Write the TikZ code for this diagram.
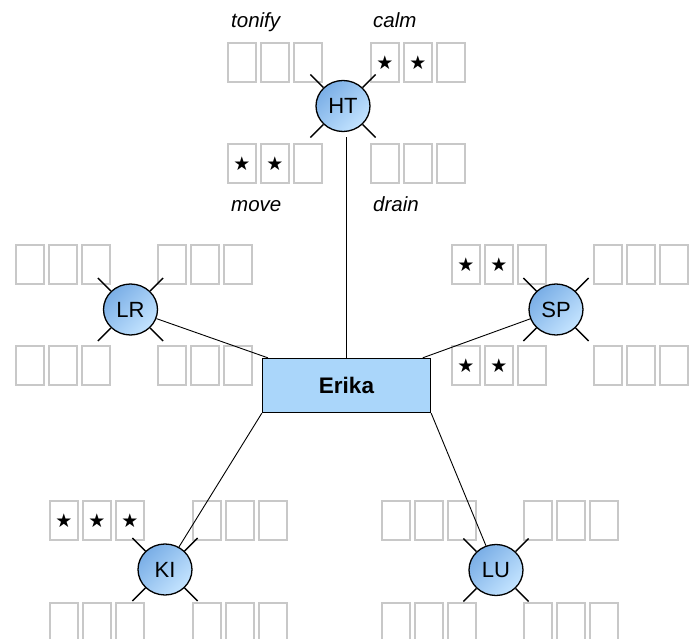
\documentclass[tikz,border=0pt]{standalone}
\usetikzlibrary{shapes.geometric}
\usepackage{fontspec}
\setmainfont{Liberation Sans}
\newfontfamily\symfont{DejaVu Sans}
\definecolor{boxgray}{RGB}{200,200,200}
\definecolor{rectblue}{RGB}{170,214,250}
\definecolor{balldark}{RGB}{122,174,230}
\definecolor{balllight}{RGB}{196,228,255}
\tikzset{
  cell/.style={draw=boxgray, line width=2pt, minimum width=28pt, minimum height=39pt, inner sep=0pt, font=\symfont\fontsize{19}{19}\selectfont},
  hubnode/.style={ellipse, draw=black, line width=1.3pt, minimum width=54pt, minimum height=51pt, inner sep=0pt,
    top color=balldark, bottom color=balllight, shading angle=45, font=\fontsize{22}{22}\selectfont},
  tick/.style={line width=1.4pt, black},
  conn/.style={line width=0.9pt, black},
  lbl/.style={anchor=base west, inner sep=0pt, font=\itshape\fontsize{20.5}{20}\selectfont},
  mainrect/.style={draw=black, line width=1.3pt, fill=rectblue, minimum width=168pt, minimum height=54pt, inner sep=0pt, font=\bfseries\fontsize{22.5}{22}\selectfont}
}
\newcommand\cellrow[4]{%
  \foreach \i in {0,1,2} {
    \pgfmathtruncatemacro\hasstar{\i<#4}
    \node[cell] (#1-\i) at ({#2+15+33*\i},{#3+20.5}) {\ifnum\hasstar=1 ★\fi};
  }}
\newcommand\ball[4]{%
  \node[hubnode] (#1) at (#3,#4) {#2};
  \draw[tick] (#1.north east) -- ++(13,-13);
  \draw[tick] (#1.north west) -- ++(-13,-13);
  \draw[tick] (#1.south east) -- ++(13,13);
  \draw[tick] (#1.south west) -- ++(-13,13);
}
\begin{document}
\begin{tikzpicture}[x=1pt,y=-1pt]
\useasboundingbox (0,0) rectangle (697,639);
\clip (0,0) rectangle (697,639);
\fill[white] (0,0) rectangle (697,639);
% HT
\cellrow{HTtl}{227}{42}{0}
\cellrow{HTtr}{370}{42}{2}
\cellrow{HTbl}{227}{143}{2}
\cellrow{HTbr}{370}{143}{0}
% LR
\cellrow{LRtl}{15}{244}{0}
\cellrow{LRtr}{157}{244}{0}
\cellrow{LRbl}{15}{345}{0}
\cellrow{LRbr}{157}{345}{0}
% SP
\cellrow{SPtl}{451}{244}{2}
\cellrow{SPtr}{593}{244}{0}
\cellrow{SPbl}{451}{345}{2}
\cellrow{SPbr}{593}{345}{0}
% KI
\cellrow{KItl}{49}{500}{3}
\cellrow{KItr}{192}{500}{0}
\cellrow{KIbl}{49}{602}{0}
\cellrow{KIbr}{192}{602}{0}
% LU
\cellrow{LUtl}{381}{500}{0}
\cellrow{LUtr}{523}{500}{0}
\cellrow{LUbl}{381}{602}{0}
\cellrow{LUbr}{523}{602}{0}
% labels
\node[lbl] (tonify) at (231,28) {tonify};
\node[lbl] (calm) at (373,28) {calm};
\node[lbl] (move) at (231,212) {move};
\node[lbl] (drain) at (373,212) {drain};
% center
\node[mainrect] (Erika) at (346.5,385.5) {Erika};
% balls
\ball{HT}{HT}{343}{106}
\ball{LR}{LR}{130.5}{309.5}
\ball{SP}{SP}{556}{309.5}
\ball{KI}{KI}{165}{569.5}
\ball{LU}{LU}{496}{570}
% connectors
\draw[conn] (Erika.north) -- ([yshift=-5pt]Erika.north |- HT.south);
\draw[conn] (LR) -- (Erika);
\draw[conn] (SP) -- (Erika);
\draw[conn] (Erika.south west) -- (KI);
\draw[conn] (Erika.south east) -- (LU);
\end{tikzpicture}
\end{document}
